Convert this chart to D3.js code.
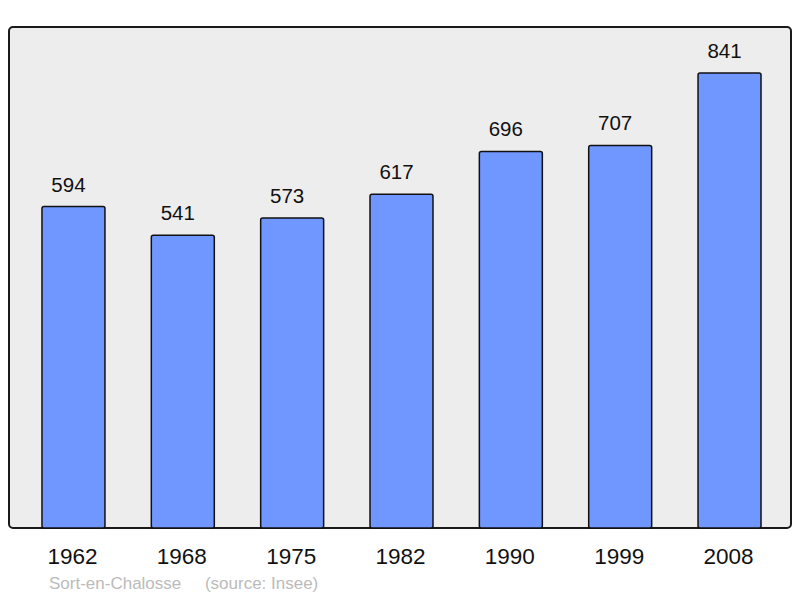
<!DOCTYPE html>
<html><head><meta charset="utf-8">
<script src="https://cdn.jsdelivr.net/npm/d3@7"></script>
<style>body{margin:0;background:#fff}svg{display:block}</style>
</head><body>
<svg id="c" width="800" height="598"></svg>
<script>
const years = ["1962","1968","1975","1982","1990","1999","2008"];
const population = [594,541,573,617,696,707,841];
const footer = "Sort-en-Chalosse     (source: Insee)";

const svg = d3.select("#c");
const font = "'Liberation Sans', Arial, sans-serif";
const x = d3.scaleBand().domain(years).range([18.8, 784.2]).paddingInner(0.424).paddingOuter(0.212);
const y = d3.scaleLinear().domain([0, 926]).range([528, 27]);

svg.append("rect").attr("x",9).attr("y",27).attr("width",782).attr("height",501)
  .attr("rx",4).attr("fill","#ededed").attr("stroke","#1a1a1a").attr("stroke-width",2);

const g = svg.append("g");
g.selectAll("rect.bar").data(years).join("rect").attr("class","bar")
  .attr("x", d=>x(d)).attr("width", x.bandwidth())
  .attr("y", (d,i)=>y(population[i])).attr("height",(d,i)=>y(0)-y(population[i]))
  .attr("rx",2).attr("fill","#7097ff").attr("stroke","#111").attr("stroke-width",1.5);

g.selectAll("text.val").data(years).join("text").attr("class","val")
  .attr("x", d=>x(d)+x.bandwidth()/2-5).attr("y",(d,i)=>y(population[i])-15)
  .attr("text-anchor","middle").attr("font-family",font).attr("font-size",20.5).attr("fill","#111")
  .text((d,i)=>population[i]);

const ax = svg.append("g").attr("transform","translate(-1,528)")
  .call(d3.axisBottom(x).tickSize(0).tickPadding(20));
ax.select(".domain").remove();
ax.selectAll("text").attr("font-family",font).attr("font-size",22.5).attr("fill","#111");

svg.append("text").attr("x",49).attr("y",589).attr("font-family",font).attr("font-size",17)
  .attr("fill","#bbb").attr("xml:space","preserve").style("white-space","pre").text(footer);
</script>
</body></html>
